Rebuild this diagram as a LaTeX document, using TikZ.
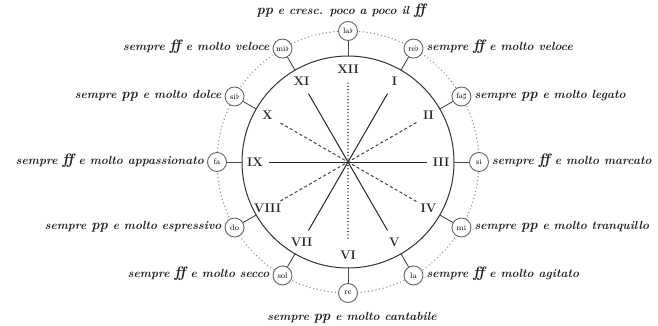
\documentclass[tikz,border=0pt]{standalone}
\usepackage{fontspec}
\newcommand\dynff{{\fontsize{15}{14}\selectfont\bfseries\itshape ff}}
\newcommand\dynpp{{\fontsize{14}{14}\selectfont\bfseries\itshape pp}}
\begin{document}
\begin{tikzpicture}[x=1pt,y=-1pt,
  lbl/.style={font=\fontsize{11.8}{12}\selectfont\bfseries\itshape, inner sep=0pt, text=black!88},
  note/.style={circle, draw=black!60, line width=0.9pt, fill=white, minimum size=19pt, inner sep=0pt, font=\fontsize{8}{8}\selectfont},
  num/.style={font=\fontsize{12.5}{12}\selectfont\bfseries, inner sep=0pt, text=black!85},
  rim/.style={draw=black!80, line width=1pt},
  tick/.style={draw=black!70, line width=0.9pt},
  ring/.style={draw=black!45, line width=1.4pt, dash pattern=on 0.1pt off 3.6pt, line cap=round},
  solidd/.style={draw=black!85, line width=1pt},
  dashd/.style={draw=black!75, line width=1pt, dash pattern=on 3pt off 2.5pt},
  dotd/.style={draw=black!75, line width=1.2pt, dash pattern=on 0.1pt off 3.2pt, line cap=round}
]
\useasboundingbox (0,0) rectangle (658,326);
\begin{scope}[shift={(348,162)}]
  \coordinate (O) at (0,0);
  \draw[ring] (O) circle (131);
  \draw[rim] (O) circle (106);
  \foreach \h in {1,...,12} {
    \coordinate (c\h) at ({30*\h-90}:106);
    \coordinate (d\h) at ({30*\h-90}:79);
  }
  \foreach \h/\t in {12/la$\flat$, 1/re$\flat$, 2/fa$\sharp$, 3/si, 4/mi, 5/la, 6/re, 7/sol, 8/do, 9/fa, 10/si$\flat$, 11/mi$\flat$} {
    \node[note] (n\h) at ({30*\h-90}:131) {\t};
  }
  \foreach \h in {1,...,12} { \draw[tick] (c\h) -- (n\h); }
  \draw[solidd] (d1) -- (d7);
  \draw[solidd] (d3) -- (d9);
  \draw[solidd] (d5) -- (d11);
  \draw[dashd] (d2) -- (d8);
  \draw[dashd] (d4) -- (d10);
  \draw[dotd] (d12) -- (d6);
  \foreach \h/\r in {1/I, 2/II, 3/III, 4/IV, 5/V, 6/VI, 7/VII, 8/VIII, 9/IX, 10/X, 11/XI, 12/XII} {
    \node[num] (r\h) at ({30*\h-90}:93) {\r};
  }
\end{scope}
\node[lbl, anchor=base] (t12) at (341,15) {\dynpp\ e cresc. poco a poco il \dynff};
\node[lbl, anchor=base] (t6) at (352,320) {sempre \dynpp\ e molto cantabile};
\node[lbl, anchor=mid west] (t1) at ([xshift=3pt]n1.east) {sempre \dynff\ e molto veloce};
\node[lbl, anchor=mid west] (t2) at ([xshift=3pt]n2.east) {sempre \dynpp\ e molto legato};
\node[lbl, anchor=mid west] (t3) at ([xshift=3pt]n3.east) {sempre \dynff\ e molto marcato};
\node[lbl, anchor=mid west] (t4) at ([xshift=3pt]n4.east) {sempre \dynpp\ e molto tranquillo};
\node[lbl, anchor=mid west] (t5) at ([xshift=3pt]n5.east) {sempre \dynff\ e molto agitato};
\node[lbl, anchor=mid east] (t7) at ([xshift=-3pt]n7.west) {sempre \dynff\ e molto secco};
\node[lbl, anchor=mid east] (t8) at ([xshift=-3pt]n8.west) {sempre \dynpp\ e molto espressivo};
\node[lbl, anchor=mid east] (t9) at ([xshift=-3pt]n9.west) {sempre \dynff\ e molto appassionato};
\node[lbl, anchor=mid east] (t10) at ([xshift=-3pt]n10.west) {sempre \dynpp\ e molto dolce};
\node[lbl, anchor=mid east] (t11) at ([xshift=-3pt]n11.west) {sempre \dynff\ e molto veloce};
\end{tikzpicture}
\end{document}
